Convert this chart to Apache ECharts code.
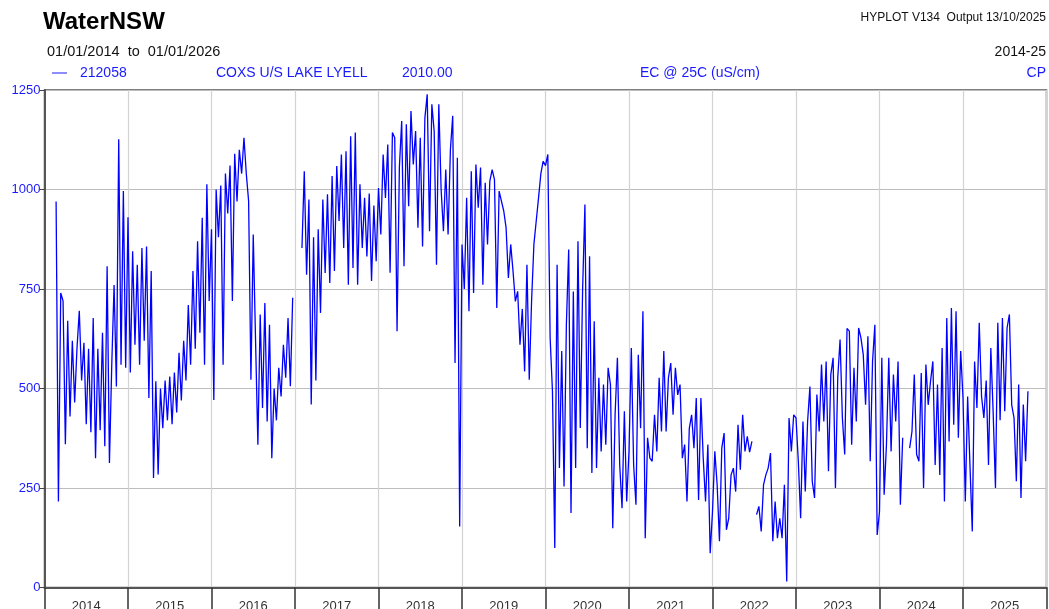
<!DOCTYPE html>
<html>
<head>
<meta charset="utf-8">
<title>212058 EC</title>
<script src="https://cdn.jsdelivr.net/npm/echarts@6/dist/echarts.min.js"></script>
<style>
  html, body { margin: 0; padding: 0; background: #fff; }
  #chart { width: 1049px; height: 609px; }
</style>
</head>
<body>
<div id="chart"></div>
<script>
// EC @ 25C (uS/cm), 36 samples per year (~10 days)
const yearLabels = ['2014','2015','2016','2017','2018','2019','2020','2021','2022','2023','2024','2025'];
const ec2014 = [null,null,null,null,null,970,216,740,720,360,670,430,620,465,600,695,520,615,410,600,390,677,325,600,395,640,355,807,313,560,760,505,1126,560,996,552];
const ec2015 = [930,540,845,610,811,560,853,620,857,476,795,275,518,284,500,400,520,420,530,410,540,440,590,470,620,520,710,560,795,600,870,640,929,560,1013,720];
const ec2016 = [900,471,1000,880,1010,560,1040,940,1060,720,1090,970,1100,1040,1130,1040,971,522,887,619,359,686,451,715,417,660,325,500,420,552,480,610,527,677,506,728];
const ec2017 = [null,null,null,853,1046,786,975,460,880,520,900,690,975,790,988,765,1034,795,1059,921,1088,853,1096,761,1134,803,1143,761,1013,853,979,832,990,770,960,820];
const ec2018 = [1004,887,1088,979,1113,791,1143,1130,644,1055,1172,807,1164,958,1197,1063,1147,904,1130,857,1180,1239,895,1214,1147,811,1214,1000,895,1050,887,1100,1185,564,1080,153];
const ec2019 = [862,750,979,694,1046,740,1063,954,1055,761,1017,862,1021,1050,1025,702,996,971,946,904,778,862,795,719,744,610,700,543,811,522,720,862,921,979,1040,1071];
const ec2020 = [1060,1088,627,493,99,811,300,594,254,660,849,187,744,300,870,401,749,962,350,832,288,669,300,527,342,510,359,552,510,149,434,577,308,199,443,216];
const ec2021 = [342,602,308,208,585,400,694,124,376,325,317,434,342,527,392,594,392,527,564,434,552,484,510,325,359,216,400,434,350,476,220,476,325,216,359,86];
const ec2022 = [191,342,258,116,350,388,145,174,283,300,241,409,296,434,342,380,340,367,null,183,204,141,258,283,300,338,116,216,124,174,124,258,15,426,342,434];
const ec2023 = [426,317,174,417,241,417,505,267,225,485,392,560,417,568,292,535,577,250,527,623,426,334,651,644,359,552,417,652,627,585,459,631,317,568,660,132];
const ec2024 = [191,577,233,359,577,342,535,417,568,208,376,null,null,350,392,535,334,317,539,250,560,459,518,568,308,510,283,602,216,677,367,702,409,694,376,594];
const ec2025 = [477,216,480,308,141,568,451,665,480,426,520,308,602,440,250,665,420,677,443,652,686,459,426,267,510,225,460,317,493];

const yearSeries = [ec2014, ec2015, ec2016, ec2017, ec2018, ec2019, ec2020, ec2021, ec2022, ec2023, ec2024, ec2025];
const perYear = 36;

let points = [];
yearSeries.forEach((vals, k) => {
    const yr = 2014 + k;
    vals.forEach((v, i) => {
        points.push([yr + i / perYear, v === null ? '-' : v]);
    });
});

const blue = '#1a1aff';
const font = '"Liberation Sans", Arial, sans-serif';

let chart = echarts.init(document.getElementById('chart'), null, {renderer: 'canvas'});

chart.setOption({
    animation: false,
    backgroundColor: '#fff',
    grid: {
        left: 44.5, right: 2.5, top: 90, bottom: 21.5,
        show: true, borderColor: '#555', borderWidth: 1.5,
        outerBoundsMode: 'none', containLabel: false
    },
    xAxis: [{
        type: 'value', min: 2014, max: 2026, interval: 1,
        axisLine: {show: false}, axisTick: {show: false}, axisLabel: {show: false},
        splitLine: {show: true, lineStyle: {color: '#d2d2d2', width: 1.2}}
    }, {
        type: 'category', data: yearLabels, position: 'bottom', boundaryGap: true,
        axisLine: {show: true, onZero: false, lineStyle: {color: '#555', width: 2}},
        axisTick: {show: true, length: 24, lineStyle: {color: '#333', width: 1.5}},
        axisLabel: {color: '#333', fontSize: 13, fontFamily: font, margin: 12},
        splitLine: {show: false}
    }],
    yAxis: {
        type: 'value', min: 0, max: 1250, interval: 250,
        axisLine: {show: true, lineStyle: {color: '#555', width: 2}},
        axisTick: {show: true, length: 5, lineStyle: {color: '#444'}},
        axisLabel: {color: blue, fontSize: 13, fontFamily: font, margin: 4, formatter: v => String(v)},
        splitLine: {show: true, lineStyle: {color: '#bdbdbd', width: 1.2}}
    },
    series: [{
        type: 'line', xAxisIndex: 0, yAxisIndex: 0,
        data: points, showSymbol: false, connectNulls: false,
        lineStyle: {color: '#0000ff', width: 1.3},
        itemStyle: {color: '#0000ff'}
    }],
    graphic: [
        {type: 'text', x: 43, y: 22, style: {text: 'WaterNSW', fill: '#000', font: 'bold 24px ' + font, textVerticalAlign: 'middle', verticalAlign: 'middle'}},
        {type: 'text', x: 1046, y: 18, style: {text: 'HYPLOT V134  Output 13/10/2025', fill: '#111', font: '12px ' + font, textAlign: 'right', align: 'right', textVerticalAlign: 'middle', verticalAlign: 'middle'}},
        {type: 'text', x: 47, y: 52, style: {text: '01/01/2014  to  01/01/2026', fill: '#111', font: '14.5px ' + font, textVerticalAlign: 'middle', verticalAlign: 'middle'}},
        {type: 'text', x: 1046, y: 52, style: {text: '2014-25', fill: '#111', font: '14px ' + font, textAlign: 'right', align: 'right', textVerticalAlign: 'middle', verticalAlign: 'middle'}},
        {type: 'line', shape: {x1: 52, y1: 73, x2: 67, y2: 73}, style: {stroke: blue, lineWidth: 1}},
        {type: 'text', x: 80, y: 73, style: {text: '212058', fill: blue, font: '14px ' + font, textVerticalAlign: 'middle', verticalAlign: 'middle'}},
        {type: 'text', x: 216, y: 73, style: {text: 'COXS U/S LAKE LYELL', fill: blue, font: '14px ' + font, textVerticalAlign: 'middle', verticalAlign: 'middle'}},
        {type: 'text', x: 402, y: 73, style: {text: '2010.00', fill: blue, font: '14px ' + font, textVerticalAlign: 'middle', verticalAlign: 'middle'}},
        {type: 'text', x: 640, y: 73, style: {text: 'EC @ 25C (uS/cm)', fill: blue, font: '14px ' + font, textVerticalAlign: 'middle', verticalAlign: 'middle'}},
        {type: 'text', x: 1046, y: 73, style: {text: 'CP', fill: blue, font: '14px ' + font, textAlign: 'right', align: 'right', textVerticalAlign: 'middle', verticalAlign: 'middle'}}
    ]
});
</script>
</body>
</html>
